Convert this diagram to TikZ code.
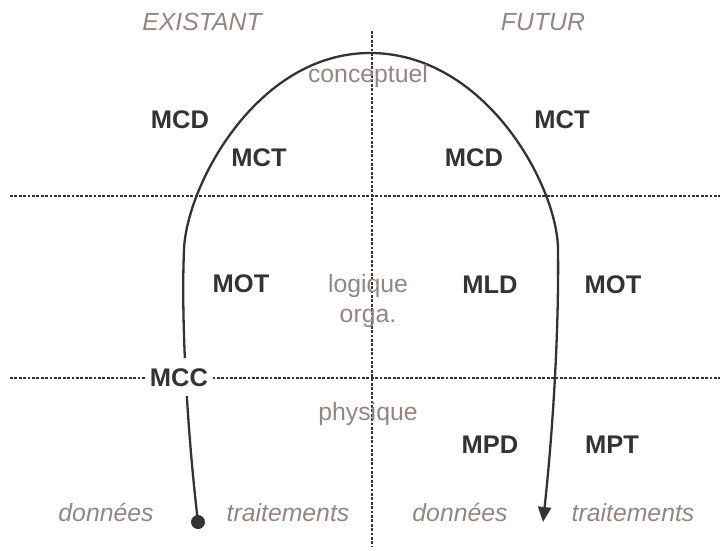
\documentclass[tikz,border=0pt]{standalone}
\usepackage{fontspec}
\setmainfont{Liberation Sans}
\usetikzlibrary{arrows.meta}
\definecolor{ink}{HTML}{333333}
\definecolor{softc}{HTML}{958581}
\begin{document}
\begin{tikzpicture}[x=1pt,y=-1pt,
  gridline/.style={ink, line width=2.7pt, dash pattern=on 2.7pt off 1.7pt},
  boldlbl/.style={font=\fontsize{25.5}{30}\selectfont\bfseries, text=ink, inner sep=0pt, anchor=base},
  softlbl/.style={font=\fontsize{24.8}{28}\selectfont, text=softc, inner sep=0pt, anchor=base},
  itlbl/.style={font=\fontsize{24.8}{28}\selectfont\itshape, text=softc, inner sep=0pt, anchor=base},
  arch/.style={ink, line width=2.3pt},
  startdot/.style={circle, fill=ink, minimum size=14pt, inner sep=0pt}]
\useasboundingbox (0,0) rectangle (720,547);
% grid
\coordinate (vtop) at (372,31);
\coordinate (vbot) at (372,547);
\coordinate (h1l) at (10,196);
\coordinate (h1r) at (720,196);
\coordinate (h2l) at (10,378);
\coordinate (h2r) at (720,378);
\draw[gridline] (vtop) -- (vbot);
\draw[gridline] (h1l) -- (h1r);
\draw[gridline] (h2l) -- (h2r);
% arch
\node[startdot] (dot) at (198,522) {};
\coordinate (lmid) at (184,250);
\coordinate (apex) at (370,53);
\coordinate (rmid) at (558,250);
\coordinate (tip) at (543,522);
\draw[arch, -{Triangle[length=15pt,width=13pt]}]
  (dot.center) .. controls (187,430) and (181,318) .. (lmid)
  .. controls (186,187) and (256,53) .. (apex)
  .. controls (486,53) and (558,187) .. (rmid)
  .. controls (559,330) and (553,430) .. (tip);
% headers
\node[itlbl] (existant) at (202,30) {EXISTANT};
\node[itlbl] (futur) at (543,30) {FUTUR};
% layer labels
\node[softlbl] (concept) at (368,82) {conceptuel};
\node[softlbl] (logique) at (368,292) {logique};
\node[softlbl] (orga) at (368,322) {orga.};
\node[softlbl] (physique) at (368,420) {physique};
% models
\node[boldlbl] (mcdl) at (180,128) {MCD};
\node[boldlbl] (mctl) at (259,166) {MCT};
\node[boldlbl] (mctr) at (562,128) {MCT};
\node[boldlbl] (mcdr) at (474,166) {MCD};
\node[boldlbl] (motl) at (241,292) {MOT};
\node[boldlbl] (mld) at (490,293) {MLD};
\node[boldlbl] (motr) at (613,293) {MOT};
\node[boldlbl, fill=white, inner xsep=5pt, inner ysep=10pt] (mcc) at (179,386) {MCC};
\node[boldlbl] (mpd) at (490,453) {MPD};
\node[boldlbl] (mpt) at (612,453) {MPT};
% bottom
\node[itlbl] (donl) at (106,521) {données};
\node[itlbl] (trl) at (288,521) {traitements};
\node[itlbl] (donr) at (460,521) {données};
\node[itlbl] (trr) at (633,521) {traitements};
\end{tikzpicture}
\end{document}
